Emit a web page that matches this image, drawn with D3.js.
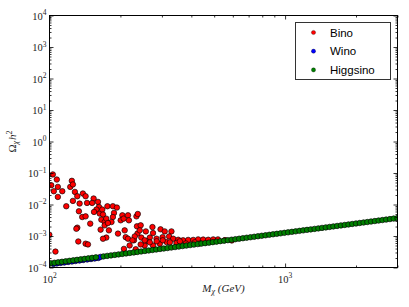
<!DOCTYPE html>
<meta charset="utf-8">
<style>
    body { margin: 0; background: #fff; }
    .tick line { stroke: #000; stroke-width: 0.8; }
    .ticklabel { font-family: "Liberation Serif", "DejaVu Serif", serif; fill: #222; }
    .legend text { font-family: "Liberation Sans", Arial, sans-serif; font-size: 11.5px; fill: #000; }
</style>
<svg width="409" height="307"></svg>
<script src="https://d3js.org/d3.v7.min.js"></script>
<script>

    var svg = d3.select("svg");

    // Bino points (mass in GeV, relic density)
    var binoMass = [103.3, 101.7, 107.4, 104.3, 108.5, 108.5, 113.3, 117.8, 124.4, 122.5,
        125.7, 128.2, 125.7, 131.2, 138.6, 142.3, 134.2, 133.3, 137.7, 142.3,
        131.2, 130.0, 132.5, 142.3, 145.6, 148.9, 144.3, 153.9, 151.7, 160.6,
        162.2, 158.2, 154.5, 163.3, 167.5, 168.7, 166.0, 164.8, 171.4, 174.2,
        176.1, 171.4, 185.8, 193.2, 187.8, 185.8, 183.3, 177.0, 178.7, 174.2,
        168.7, 195.3, 200.5, 203.8, 206.4, 215.4, 217.3, 208.5, 210.6, 215.4,
        207.0, 218.8, 228.3, 236.2, 233.9, 235.1, 230.2, 99.8, 106.0, 237.0,
        243.8, 241.5, 256.4, 245.3, 230.0, 224.9, 273.5, 275.1, 296.0, 308.3,
        329.3, 321.8, 302.0, 284.6, 266.6, 257.9, 253.5, 232.3, 335.0, 351.9,
        369.0, 387.7, 407.4, 427.6, 449.0, 471.8, 495.4, 314.0, 293.9, 275.0,
        346.0, 518.6, 555.6, 594.0, 266.5, 285.0, 302.5, 324.3, 357.5, 379.0,
        414.0, 434.5, 253.5, 243.8];
    var binoOmega = [0.090, 0.041, 0.062, 0.0264, 0.0362, 0.0174, 0.0264, 0.0088, 0.0564, 0.0362,
        0.0433, 0.0251, 0.0130, 0.0183, 0.0223, 0.0183, 0.0107, 0.0061, 0.0040, 0.0042,
        0.00184, 0.0017, 0.00067, 0.00057, 0.00054, 0.00247, 0.0112, 0.0155, 0.0112, 0.0121,
        0.0084, 0.0069, 0.0058, 0.00515, 0.0069, 0.0048, 0.0033, 0.00159, 0.00278, 0.00356,
        0.0088, 0.00218, 0.0088, 0.0080, 0.0054, 0.0040, 0.00278, 0.00258, 0.00151, 0.00089,
        0.00082, 0.00119, 0.00315, 0.00454, 0.00356, 0.00454, 0.00315, 0.00151, 0.00092, 0.00082,
        0.00039, 0.00050, 0.00073, 0.00119, 0.0042, 0.00203, 0.00031, 0.0011, 0.00032, 0.0050,
        0.00218, 0.00151, 0.0014, 0.00089, 0.00097, 0.00073, 0.00192, 0.00124, 0.00163, 0.0014,
        0.0014, 0.00097, 0.00092, 0.00082, 0.00089, 0.00069, 0.00050, 0.00038, 0.00082, 0.00076,
        0.00073, 0.00075, 0.00075, 0.00078, 0.00077, 0.00076, 0.00078, 0.00064, 0.00057, 0.00050,
        0.00060, 0.00078, 0.00074, 0.00072, 0.00063, 0.00068, 0.00073, 0.00063, 0.00068, 0.00058,
        0.00063, 0.00058, 0.00073, 0.00054];

    // Wino points
    var winoMass = [104.0, 107.5, 111.5, 115.5, 120.0, 124.5, 129.0, 134.0, 139.0, 144.5,
        150.0, 155.5, 161.0, 164.5];
    var winoOmega = [1.30e-4, 1.35e-4, 1.40e-4, 1.44e-4, 1.50e-4, 1.55e-4, 1.61e-4, 1.67e-4, 1.73e-4, 1.80e-4,
        1.86e-4, 1.93e-4, 2.00e-4, 2.17e-4];

    // Higgsino points
    var higgsinoMass = [101.2, 105.0, 108.9, 113.0, 117.2, 121.6, 126.2, 130.9, 135.8, 140.9,
        146.2, 151.7, 157.4, 169.5, 175.8, 182.4, 189.3, 196.4, 203.7, 211.4,
        219.3, 227.5, 236.1, 244.9, 254.1, 263.7, 273.6, 283.8, 294.5, 305.5,
        317.0, 328.9, 341.2, 354.0, 367.3, 381.1, 395.4, 410.2, 425.6, 441.6,
        458.1, 475.3, 493.2, 511.7, 530.9, 550.8, 571.5, 592.9, 615.2, 638.2,
        662.2, 687.0, 712.8, 739.6, 767.3, 796.1, 826.0, 857.0, 889.2, 922.5,
        957.1, 993.1, 1030, 1069, 1109, 1151, 1194, 1239, 1285, 1334,
        1384, 1435, 1489, 1545, 1603, 1663, 1726, 1791, 1858, 1927,
        2000, 2075, 2153, 2233, 2317, 2404, 2494, 2588, 2685, 2786,
        2890, 2999];
    var higgsinoOmega = [1.364e-4, 1.414e-4, 1.466e-4, 1.519e-4, 1.575e-4, 1.632e-4, 1.692e-4, 1.754e-4, 1.818e-4, 1.884e-4,
        1.953e-4, 2.024e-4, 2.098e-4, 2.254e-4, 2.337e-4, 2.422e-4, 2.511e-4, 2.602e-4, 2.697e-4, 2.796e-4,
        2.898e-4, 3.004e-4, 3.114e-4, 3.228e-4, 3.346e-4, 3.468e-4, 3.594e-4, 3.726e-4, 3.862e-4, 4.003e-4,
        4.149e-4, 4.301e-4, 4.458e-4, 4.621e-4, 4.790e-4, 4.965e-4, 5.146e-4, 5.334e-4, 5.529e-4, 5.731e-4,
        5.940e-4, 6.157e-4, 6.382e-4, 6.615e-4, 6.857e-4, 7.108e-4, 7.367e-4, 7.636e-4, 7.915e-4, 8.204e-4,
        8.504e-4, 8.815e-4, 9.137e-4, 9.470e-4, 9.816e-4, 1.0175e-3, 1.0546e-3, 1.0932e-3, 1.1331e-3, 1.1745e-3,
        1.217e-3, 1.262e-3, 1.308e-3, 1.356e-3, 1.405e-3, 1.457e-3, 1.510e-3, 1.565e-3, 1.622e-3, 1.682e-3,
        1.743e-3, 1.807e-3, 1.873e-3, 1.941e-3, 2.012e-3, 2.086e-3, 2.162e-3, 2.241e-3, 2.323e-3, 2.408e-3,
        2.496e-3, 2.587e-3, 2.681e-3, 2.779e-3, 2.881e-3, 2.986e-3, 3.095e-3, 3.208e-3, 3.325e-3, 3.447e-3,
        3.573e-3, 3.703e-3];

    var xMajor = [100, 1000];
    var xMajorExp = ["2", "3"];
    var xMinor = [200, 300, 400, 500, 600, 700, 800, 900, 2000, 3000];
    var yMajor = [1e-4, 1e-3, 1e-2, 1e-1, 1e0, 1e1, 1e2, 1e3, 1e4];
    var yMajorExp = ["\u22124", "\u22123", "\u22122", "\u22121", "0", "1", "2", "3", "4"];
    var yMinor = [];
    yMajor.slice(0, -1).forEach(function(d) {
        [2, 3, 4, 5, 6, 7, 8, 9].forEach(function(m) { yMinor.push(d * m); });
    });

    var series = [
        {name: "Bino", color: "#ff0000", mass: binoMass, omega: binoOmega},
        {name: "Wino", color: "#0000ff", mass: winoMass, omega: winoOmega},
        {name: "Higgsino", color: "#008000", mass: higgsinoMass, omega: higgsinoOmega}
    ];

    var plotLeft = 49.5, plotRight = 397.5, plotTop = 15.5, plotBottom = 267.5;

    var x = d3.scaleLog().domain([100, 3000]).range([plotLeft, plotRight]);
    var y = d3.scaleLog().domain([1e-4, 1e4]).range([plotBottom, plotTop]);

    svg.append("defs").append("clipPath").attr("id", "plot")
        .append("rect").attr("x", plotLeft).attr("y", plotTop)
        .attr("width", plotRight - plotLeft).attr("height", plotBottom - plotTop);

    var plot = svg.append("g").attr("clip-path", "url(#plot)");

    series.forEach(function(s) {
        plot.append("g").selectAll("circle")
            .data(s.mass.map(function(m, i) { return [m, s.omega[i]]; }))
            .enter().append("circle")
            .attr("cx", function(d) { return x(d[0]); })
            .attr("cy", function(d) { return y(d[1]); })
            .attr("r", 2.75)
            .attr("fill", s.color)
            .attr("stroke", "#000")
            .attr("stroke-width", 0.65);
    });

    function clean(g) { g.select(".domain").remove(); }

    // ticks pointing inwards on all four sides
    svg.append("g").attr("transform", "translate(0," + plotBottom + ")")
        .call(d3.axisBottom(x).tickValues(xMajor).tickSize(-4).tickSizeOuter(0).tickFormat("")).call(clean);
    svg.append("g").attr("transform", "translate(0," + plotBottom + ")")
        .call(d3.axisBottom(x).tickValues(xMinor).tickSize(-2).tickSizeOuter(0).tickFormat("")).call(clean);
    svg.append("g").attr("transform", "translate(0," + plotTop + ")")
        .call(d3.axisTop(x).tickValues(xMajor).tickSize(-4).tickSizeOuter(0).tickFormat("")).call(clean);
    svg.append("g").attr("transform", "translate(0," + plotTop + ")")
        .call(d3.axisTop(x).tickValues(xMinor).tickSize(-2).tickSizeOuter(0).tickFormat("")).call(clean);
    svg.append("g").attr("transform", "translate(" + plotLeft + ",0)")
        .call(d3.axisLeft(y).tickValues(yMajor).tickSize(-4).tickSizeOuter(0).tickFormat("")).call(clean);
    svg.append("g").attr("transform", "translate(" + plotLeft + ",0)")
        .call(d3.axisLeft(y).tickValues(yMinor).tickSize(-2).tickSizeOuter(0).tickFormat("")).call(clean);
    svg.append("g").attr("transform", "translate(" + plotRight + ",0)")
        .call(d3.axisRight(y).tickValues(yMajor).tickSize(-4).tickSizeOuter(0).tickFormat("")).call(clean);
    svg.append("g").attr("transform", "translate(" + plotRight + ",0)")
        .call(d3.axisRight(y).tickValues(yMinor).tickSize(-2).tickSizeOuter(0).tickFormat("")).call(clean);

    svg.append("rect")
        .attr("x", plotLeft).attr("y", plotTop)
        .attr("width", plotRight - plotLeft).attr("height", plotBottom - plotTop)
        .attr("fill", "none").attr("stroke", "#000").attr("stroke-width", 1);

    // tick labels 10^n
    function powerLabel(sel, exp) {
        sel.append("tspan").attr("font-size", "10.5px").text("10");
        sel.append("tspan").attr("font-size", "7.5px").attr("dy", "-4.5").text(exp);
    }

    yMajor.forEach(function(v, i) {
        var t = svg.append("text").attr("class", "ticklabel")
            .attr("x", plotLeft - 3).attr("y", y(v) + 4)
            .attr("text-anchor", "end");
        powerLabel(t, yMajorExp[i]);
    });

    xMajor.forEach(function(v, i) {
        var t = svg.append("text").attr("class", "ticklabel")
            .attr("x", x(v)).attr("y", plotBottom + 15)
            .attr("text-anchor", "middle");
        powerLabel(t, xMajorExp[i]);
    });

    // axis labels
    var xl = svg.append("text").attr("class", "ticklabel")
        .attr("x", (plotLeft + plotRight) / 2).attr("y", 292)
        .attr("text-anchor", "middle").attr("font-size", "11px").attr("font-style", "italic");
    xl.append("tspan").text("M");
    xl.append("tspan").attr("font-size", "8px").attr("dy", "2").text("\u03c7");
    xl.append("tspan").attr("dy", "-2").text(" (GeV)");

    var yl = svg.append("text").attr("class", "ticklabel")
        .attr("transform", "translate(16," + ((plotTop + plotBottom) / 2) + ") rotate(-90)")
        .attr("text-anchor", "middle").attr("font-size", "11px");
    yl.append("tspan").text("\u03a9");
    yl.append("tspan").attr("font-size", "8px").attr("font-style", "italic").attr("dy", "2").text("\u03c7");
    yl.append("tspan").attr("font-style", "italic").attr("dy", "-2").attr("dx", "1").text("h");
    yl.append("tspan").attr("font-size", "8px").attr("dy", "-4").text("2");

    // legend
    var legend = svg.append("g").attr("class", "legend");
    legend.append("rect")
        .attr("x", 295.5).attr("y", 22.5).attr("width", 95).attr("height", 57)
        .attr("fill", "#fff").attr("stroke", "#333").attr("stroke-width", 1);
    series.forEach(function(s, i) {
        var cy = 32.5 + i * 18.7;
        legend.append("circle").attr("cx", 313.5).attr("cy", cy).attr("r", 2.1)
            .attr("fill", s.color).attr("stroke", "#000").attr("stroke-width", 0.3);
        legend.append("text").attr("x", 330).attr("y", cy + 4).text(s.name);
    });

</script>
